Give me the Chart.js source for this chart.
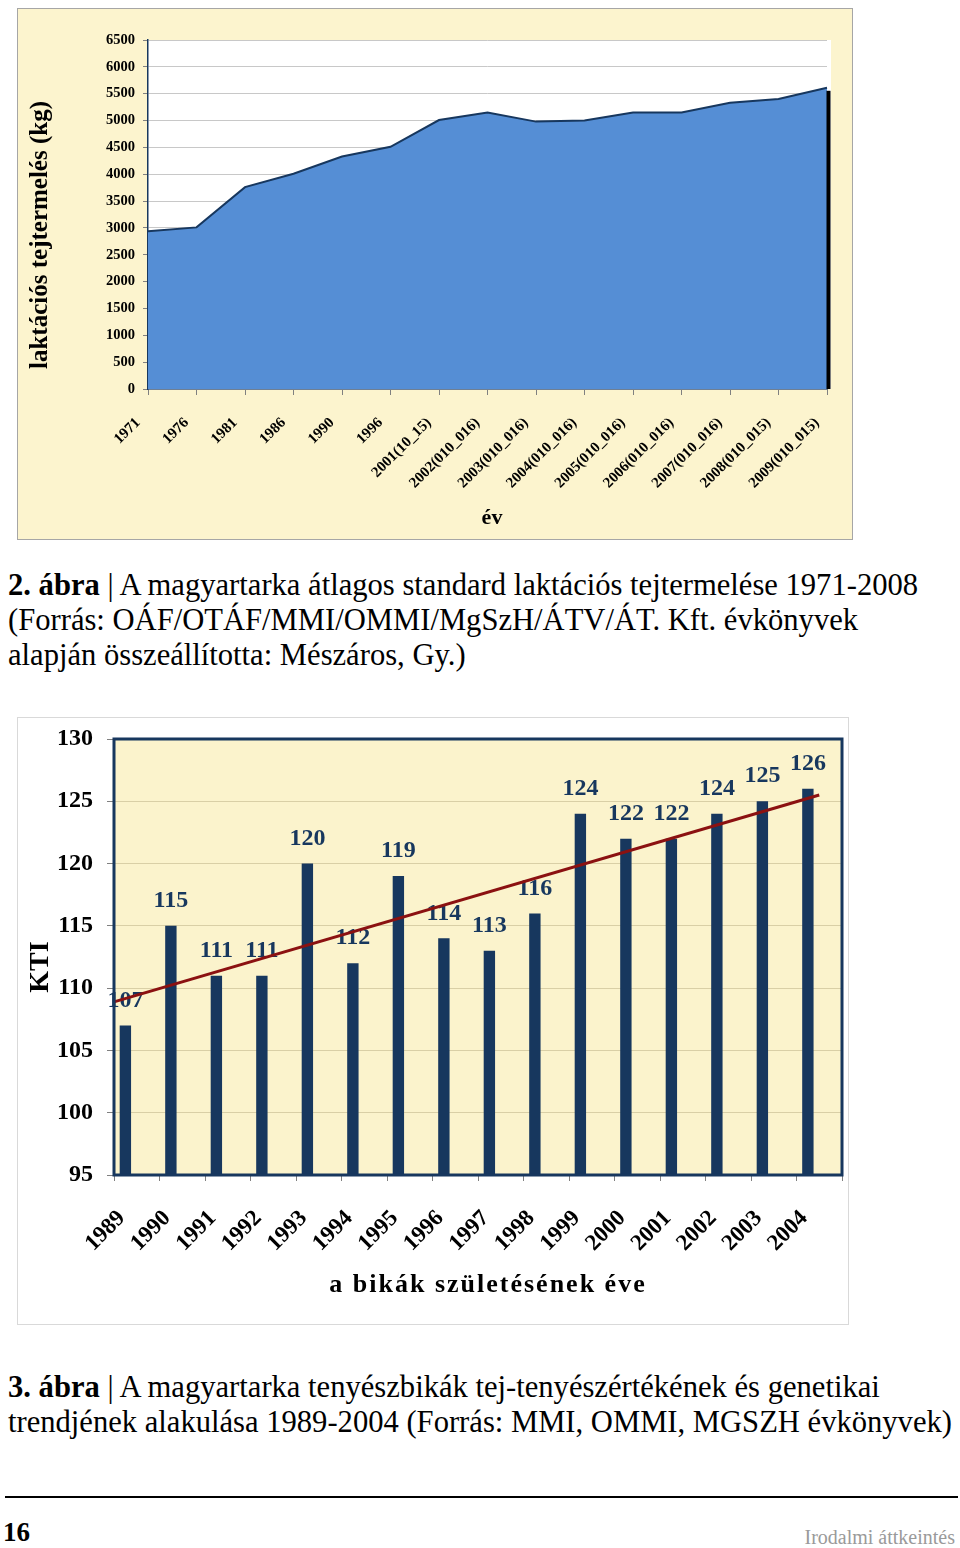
<!DOCTYPE html>
<html><head><meta charset="utf-8">
<script src="https://cdn.jsdelivr.net/npm/chart.js@4.4.1/dist/chart.umd.min.js"></script>
<style>
html,body{margin:0;padding:0;background:#fff;}
body{width:960px;height:1548px;position:relative;overflow:hidden;font-family:"Liberation Serif","Times New Roman",serif;color:#000;}
#box1{position:absolute;left:17px;top:8px;width:836px;height:532px;border:1px solid #A6A6A6;box-sizing:border-box;background:#FCF4CE;}
#box2{position:absolute;left:17px;top:717px;width:832px;height:608px;border:1px solid #D9D9D9;box-sizing:border-box;background:#fff;}
canvas{display:block;}
.cap{position:absolute;left:8px;font-size:30.6px;line-height:35px;white-space:nowrap;}
#rule{position:absolute;left:5px;top:1496px;width:953px;height:2px;background:#000;}
#pnum{position:absolute;left:3px;top:1516px;font-weight:bold;font-size:27px;line-height:32px;}
#sect{position:absolute;right:5px;top:1524px;font-size:20px;line-height:26px;color:#9a9a9a;}
</style></head>
<body>
<div id="box1"><canvas id="c1" width="834" height="530"></canvas></div>
<div class="cap" style="top:568px"><b>2. ábra</b> | A magyartarka átlagos standard laktációs tejtermelése 1971-2008<br>(Forrás: OÁF/OTÁF/MMI/OMMI/MgSzH/ÁTV/ÁT. Kft. évkönyvek<br>alapján összeállította: Mészáros, Gy.)</div>
<div id="box2"><canvas id="c2" width="830" height="606"></canvas></div>
<div class="cap" style="top:1370px"><b>3. ábra</b> | A magyartarka tenyészbikák tej-tenyészértékének és genetikai<br>trendjének alakulása 1989-2004 (Forrás: MMI, OMMI, MGSZH évkönyvek)</div>
<div id="rule"></div>
<div id="pnum">16</div>
<div id="sect">Irodalmi áttkeintés</div>
<script>
// ---- Chart 1 data ----
const milkYears = ['1971','1976','1981','1986','1990','1996','2001(10_15)','2002(010_016)','2003(010_016)','2004(010_016)','2005(010_016)','2006(010_016)','2007(010_016)','2008(010_015)','2009(010_015)'];
const milkValues = [2940, 3010, 3760, 4010, 4330, 4510, 5010, 5150, 4980, 5000, 5150, 5150, 5330, 5400, 5610];
const milkTickStep = 500;
const milkMax = 6500;

// ---- Chart 2 data ----
const bullYears = ['1989','1990','1991','1992','1993','1994','1995','1996','1997','1998','1999','2000','2001','2002','2003','2004'];
const ktiValues = [107, 115, 111, 111, 120, 112, 119, 114, 113, 116, 124, 122, 122, 124, 125, 126];
const trendX = [-0.5, 15];       // category positions (index units) of trend line ends
const trendY = [108.9, 125.5];   // KTI values at those ends
const ktiMin = 95, ktiMax = 130, ktiStep = 5;

const SERIF = '"Liberation Serif","Times New Roman",serif';

const bgPlugin = {
  id: 'plotBg',
  beforeDraw(chart, args, o) {
    if (!o || !o.color) return;
    const a = chart.chartArea, ctx = chart.ctx;
    ctx.save();
    ctx.fillStyle = o.color;
    ctx.fillRect(a.left, a.top, a.right - a.left + (o.extraRight || 0), a.bottom - a.top);
    ctx.restore();
  }
};
const titlePlugin = {
  id: 'axisTitles',
  afterDraw(chart, args, o) {
    const ctx = chart.ctx;
    (o.items || []).forEach(it => {
      ctx.save();
      ctx.font = it.font; ctx.fillStyle = it.color || '#000';
      if (it.spacing && 'letterSpacing' in ctx) ctx.letterSpacing = it.spacing;
      ctx.textAlign = 'center'; ctx.textBaseline = 'middle';
      ctx.translate(it.x, it.y);
      if (it.rotate) ctx.rotate(it.rotate);
      ctx.fillText(it.text, 0, 0);
      ctx.restore();
    });
  }
};

// ---- Chart 1 ----
const shadowPlugin = {
  id: 'edgeShadow',
  afterDatasetsDraw(chart) {
    const meta = chart.getDatasetMeta(0);
    const last = meta.data[meta.data.length - 1];
    const ctx = chart.ctx;
    ctx.save();
    ctx.fillStyle = '#000';
    ctx.fillRect(last.x - 0.5, last.y + 3, 4, chart.chartArea.bottom - last.y - 3);
    ctx.restore();
  }
};

new Chart(document.getElementById('c1'), {
  type: 'line',
  data: {
    labels: milkYears,
    datasets: [{
      data: milkValues,
      fill: 'origin',
      backgroundColor: '#558ED5',
      borderColor: '#17375E',
      borderWidth: 2,
      pointRadius: 0,
      tension: 0
    }]
  },
  options: {
    responsive: false,
    animation: false,
    layout: { padding: { left: 0, right: 25, top: 31, bottom: 0 } },
    plugins: {
      legend: { display: false },
      tooltip: { enabled: false },
      plotBg: { color: '#ffffff', extraRight: 4 },
      axisTitles: { items: [
        { text: 'laktációs tejtermelés (kg)', x: 23, y: 226, rotate: -Math.PI / 2, font: 'bold 25px ' + SERIF },
        { text: 'év', x: 474, y: 509, font: 'bold 22px ' + SERIF }
      ] }
    },
    scales: {
      x: {
        type: 'category',
        offset: false,
        ticks: { autoSkip: false, minRotation: 45, maxRotation: 45, color: '#000', padding: 19, labelOffset: -10,
                 font: { family: SERIF, weight: 'bold', size: 15 } },
        grid: { display: true, drawOnChartArea: false, offset: false, tickLength: 6, color: '#808080' },
        border: { color: '#17375E', width: 1.5 },
        afterFit: s => { s.height = 150; s.paddingLeft = 0; s.paddingRight = 0; }
      },
      y: {
        min: 0, max: milkMax,
        ticks: { stepSize: milkTickStep, color: '#000', padding: 8, callback: v => String(v),
                 font: { family: SERIF, weight: 'bold', size: 14.5 } },
        grid: { color: '#C8C8C8', tickColor: '#808080', tickLength: 5 },
        border: { color: '#17375E', width: 1.5 },
        afterFit: s => { s.width = 130; s.paddingTop = 0; s.paddingBottom = 0; }
      }
    }
  },
  plugins: [bgPlugin, shadowPlugin, titlePlugin]
});

// ---- Chart 2 ----
const labelPlugin = {
  id: 'barLabels',
  afterDatasetDraw(chart, args) {
    if (args.index !== 0) return;
    const ctx = chart.ctx;
    const meta = args.meta;
    ctx.save();
    ctx.font = 'bold 24px ' + SERIF;
    ctx.fillStyle = '#17375E';
    ctx.textAlign = 'center';
    ctx.textBaseline = 'middle';
    meta.data.forEach((bar, i) => {
      ctx.fillText(String(ktiValues[i]), bar.x, bar.y - 25);
    });
    ctx.restore();
  }
};
const trendPlugin = {
  id: 'trendLine',
  afterDatasetsDraw(chart) {
    const xs = chart.scales.x, ys = chart.scales.y, ctx = chart.ctx;
    ctx.save();
    ctx.strokeStyle = '#8B1111';
    ctx.lineWidth = 3;
    ctx.lineCap = 'butt';
    ctx.beginPath();
    trendX.forEach((xv, i) => {
      const px = xs.getPixelForValue(xv), py = ys.getPixelForValue(trendY[i]);
      if (i === 0) ctx.moveTo(px, py); else ctx.lineTo(px, py);
    });
    ctx.stroke();
    ctx.restore();
  }
};
const framePlugin = {
  id: 'plotFrame',
  afterDatasetsDraw(chart) {
    const a = chart.chartArea, ctx = chart.ctx;
    ctx.save();
    ctx.strokeStyle = '#17375E';
    ctx.lineWidth = 3;
    ctx.strokeRect(a.left, a.top, a.right - a.left, a.bottom - a.top);
    ctx.restore();
  }
};
const emptySeries = bullYears.map(() => null);

new Chart(document.getElementById('c2'), {
  type: 'bar',
  data: {
    labels: bullYears,
    datasets: [
      { data: ktiValues, backgroundColor: '#17375E', categoryPercentage: 0.75, barPercentage: 1.0 },
      { data: emptySeries, backgroundColor: 'rgba(0,0,0,0)', categoryPercentage: 0.75, barPercentage: 1.0 },
      { data: emptySeries, backgroundColor: 'rgba(0,0,0,0)', categoryPercentage: 0.75, barPercentage: 1.0 }
    ]
  },
  options: {
    responsive: false,
    animation: false,
    layout: { padding: { left: 0, right: 6, top: 21, bottom: 0 } },
    plugins: {
      legend: { display: false },
      tooltip: { enabled: false },
      plotBg: { color: '#FBF3CC' },
      axisTitles: { items: [
        { text: 'KTI', x: 23, y: 249, rotate: -Math.PI / 2, font: 'bold 28px ' + SERIF },
        { text: 'a bikák születésének éve', x: 470, y: 567, font: 'bold 26px ' + SERIF, spacing: '2px' }
      ] }
    },
    scales: {
      x: {
        type: 'category',
        offset: true,
        ticks: { autoSkip: false, minRotation: 45, maxRotation: 45, color: '#000', padding: 24, labelOffset: -15,
                 font: { family: SERIF, weight: 'bold', size: 23 } },
        grid: { display: true, drawOnChartArea: false, offset: true, tickLength: 6, color: '#808080' },
        border: { display: false },
        afterFit: s => { s.height = 149; s.paddingLeft = 0; s.paddingRight = 0; }
      },
      y: {
        min: ktiMin, max: ktiMax,
        ticks: { stepSize: ktiStep, color: '#000', padding: 14,
                 font: { family: SERIF, weight: 'bold', size: 24 } },
        grid: { color: '#D9CFA6', tickColor: '#808080', tickLength: 7 },
        border: { display: false },
        afterFit: s => { s.width = 96; s.paddingTop = 0; s.paddingBottom = 0; }
      }
    }
  },
  plugins: [bgPlugin, labelPlugin, trendPlugin, framePlugin, titlePlugin]
});
</script>
</body></html>
